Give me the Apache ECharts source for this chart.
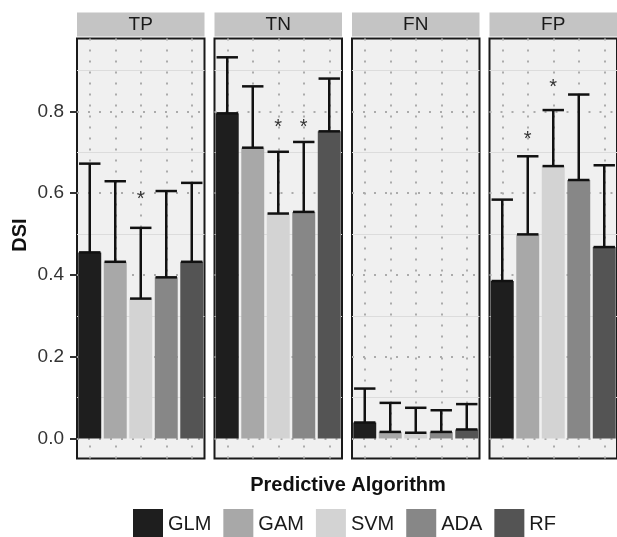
<!DOCTYPE html>
<html>
<head>
<meta charset="utf-8">
<script src="https://cdn.jsdelivr.net/npm/echarts@6/dist/echarts.min.js"></script>
<style>
html,body{margin:0;padding:0;background:#fff;}
#chart{width:617px;height:537px;}
</style>
</head>
<body>
<div id="chart"></div>
<script>
// ---- data ----
const categories = ['GLM', 'GAM', 'SVM', 'ADA', 'RF'];
const panels = ['TP', 'TN', 'FN', 'FP'];
const yTicks = [0.0, 0.2, 0.4, 0.6, 0.8];

const tpMean  = [0.455, 0.432, 0.342, 0.394, 0.432];
const tpUpper = [0.672, 0.629, 0.515, 0.605, 0.625];
const tnMean  = [0.795, 0.711, 0.550, 0.554, 0.751];
const tnUpper = [0.932, 0.861, 0.701, 0.725, 0.880];
const fnMean  = [0.039, 0.016, 0.014, 0.016, 0.022];
const fnUpper = [0.122, 0.087, 0.075, 0.069, 0.084];
const fpMean  = [0.385, 0.499, 0.666, 0.632, 0.468];
const fpUpper = [0.584, 0.690, 0.803, 0.841, 0.668];

const tpStar = [null, null, 0.595, null, null];
const tnStar = [null, null, 0.770, 0.770, null];
const fnStar = [null, null, null, null, null];
const fpStar = [null, 0.741, 0.868, null, null];

// ---- styling / layout ----
const colors = ['#1e1e1e', '#a8a8a8', '#d3d3d3', '#878787', '#545454'];
const FONT = '"Liberation Sans", Arial, sans-serif';
const panelLefts = [77, 214.5, 352, 489.5];
const panelWidth = 127.5;
const panelTop = 38.5;
const panelHeight = 420;
const yMin = -0.049, yMax = 0.978;

const means = [tpMean, tnMean, fnMean, fpMean];
const uppers = [tpUpper, tnUpper, fnUpper, fpUpper];
const stars = [tpStar, tnStar, fnStar, fpStar];

const grids = [], xAxes = [], yAxes = [], series = [], graphics = [];

panels.forEach((p, k) => {
  grids.push({
    left: panelLefts[k], top: panelTop, width: panelWidth, height: panelHeight,
    show: true, backgroundColor: '#f0f0f0', borderColor: '#1a1a1a', borderWidth: 2, z: 0
  });
  xAxes.push({
    type: 'category', gridIndex: k, data: categories,
    axisLine: {show: false}, axisTick: {show: false}, axisLabel: {show: false}, splitLine: {show: false}
  });
  yAxes.push({
    type: 'value', gridIndex: k, min: yMin, max: yMax,
    axisLine: {show: false}, axisTick: {show: false}, axisLabel: {show: false}, splitLine: {show: false}
  });

  // grid lines
  const minorLines = [0.1, 0.3, 0.5, 0.7, 0.9].map(v => ({yAxis: v,
    lineStyle: {type: 'solid', color: '#dcdcdc', width: 1}}));
  const majorLines = yTicks.map(v => ({yAxis: v,
    lineStyle: {type: [2, 9], color: '#ababab', width: 2}}));
  const vertLines = categories.map((c, i) => ({xAxis: i,
    lineStyle: {type: [2, 9], color: '#ababab', width: 2}}));
  series.push({
    type: 'line', xAxisIndex: k, yAxisIndex: k, data: categories.map(() => '-'),
    silent: true, z: 1, symbol: 'none',
    markLine: {silent: true, z: 1, symbol: ['none', 'none'], label: {show: false},
      animation: false, data: [...minorLines, ...majorLines, ...vertLines]}
  });

  // bars
  categories.forEach((c, i) => {
    series.push({
      name: c, type: 'bar', stack: 'p' + k, xAxisIndex: k, yAxisIndex: k,
      barWidth: '90%', z: 3,
      itemStyle: {color: colors[i]},
      data: means[k].map((v, j) => j === i ? v : '-')
    });
  });

  // error bars
  series.push({
    type: 'custom', xAxisIndex: k, yAxisIndex: k, z: 4, silent: true,
    data: means[k].map((v, i) => [i, v, uppers[k][i]]),
    renderItem: function (params, api) {
      const x = api.value(0);
      const lo = api.coord([x, api.value(1)]);
      const hi = api.coord([x, api.value(2)]);
      const half = api.size([1, 0])[0] * 0.42;
      const st = {stroke: '#111', lineWidth: 2.5};
      return {type: 'group', children: [
        {type: 'line', shape: {x1: lo[0], y1: lo[1], x2: hi[0], y2: hi[1]}, style: st},
        {type: 'line', shape: {x1: lo[0] - half, y1: lo[1], x2: lo[0] + half, y2: lo[1]}, style: st},
        {type: 'line', shape: {x1: hi[0] - half, y1: hi[1], x2: hi[0] + half, y2: hi[1]}, style: st}
      ]};
    }
  });

  // asterisks
  const starData = [];
  stars[k].forEach((v, i) => { if (v !== null) starData.push([i, v]); });
  series.push({
    type: 'custom', xAxisIndex: k, yAxisIndex: k, z: 5, silent: true,
    data: starData,
    renderItem: function (params, api) {
      const pt = api.coord([api.value(0), api.value(1)]);
      return {type: 'text', x: pt[0], y: pt[1] + 4,
        style: {text: '*', font: '20px ' + FONT, fill: '#333', align: 'center', verticalAlign: 'middle'}};
    }
  });

  // strip
  graphics.push({type: 'rect', shape: {x: panelLefts[k], y: 12.5, width: panelWidth, height: 24},
    style: {fill: '#c4c4c4'}, z: 0});
  graphics.push({type: 'text', x: panelLefts[k] + panelWidth / 2, y: 25,
    style: {text: p, font: '19px ' + FONT, fill: '#1a1a1a', align: 'center', verticalAlign: 'middle'}});
});

// left value axis (labels/ticks) in its own grid spanning 0..0.8
const zeroY = panelTop + panelHeight * (yMax - 0) / (yMax - yMin);
const eightY = panelTop + panelHeight * (yMax - 0.8) / (yMax - yMin);
grids.push({left: 77, top: eightY, width: 10, height: zeroY - eightY, show: false});
xAxes.push({type: 'value', gridIndex: 4, show: false, min: 0, max: 1});
yAxes.push({
  type: 'value', gridIndex: 4, min: 0, max: 0.8, interval: 0.2,
  axisLine: {show: false},
  axisTick: {show: true, length: 7, lineStyle: {color: '#333', width: 2}},
  axisLabel: {show: true, margin: 13, fontSize: 19, fontFamily: FONT, color: '#333',
    formatter: v => v.toFixed(1)},
  splitLine: {show: false}
});

graphics.push({type: 'text', x: 20, y: 235, rotation: Math.PI / 2,
  style: {text: 'DSI', font: 'bold 20px ' + FONT, fill: '#111', align: 'center', verticalAlign: 'middle'}});
graphics.push({type: 'text', x: 348, y: 485,
  style: {text: 'Predictive Algorithm', font: 'bold 20px ' + FONT, fill: '#111', align: 'center', verticalAlign: 'middle'}});

const chart = echarts.init(document.getElementById('chart'), null, {renderer: 'canvas'});
chart.setOption({
  animation: false,
  backgroundColor: '#ffffff',
  grid: grids,
  xAxis: xAxes,
  yAxis: yAxes,
  legend: {
    data: categories, left: 133, top: 509, padding: 0,
    itemWidth: 30, itemHeight: 30, itemGap: 12, icon: 'rect',
    selectedMode: false,
    textStyle: {fontSize: 20, fontFamily: FONT, color: '#1a1a1a', padding: [0, 0, 0, 0]}
  },
  graphic: graphics,
  series: series
});
</script>
</body>
</html>
